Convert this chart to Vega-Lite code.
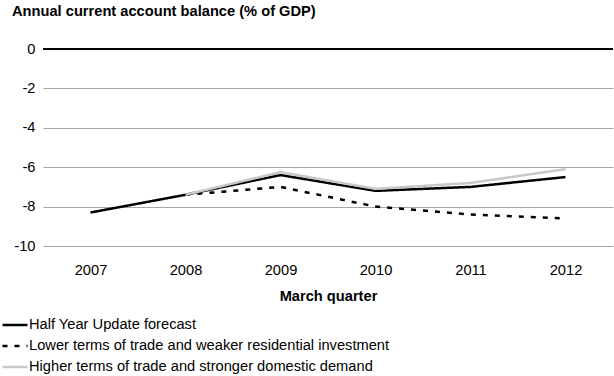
{
  "$schema": "https://vega.github.io/schema/vega-lite/v6.json",
  "width": 570,
  "height": 197,
  "autosize": "none",
  "padding": {"left": 43, "top": 49, "right": 1, "bottom": 130},
  "background": "white",
  "config": {
    "font": "Liberation Sans",
    "view": {"stroke": null}
  },
  "title": {
    "text": "Annual current account balance (% of GDP)",
    "anchor": "start",
    "frame": "group",
    "dx": -31,
    "fontSize": 14.67,
    "fontWeight": "bold",
    "font": "Liberation Sans",
    "color": "#000000",
    "offset": 22
  },
  "data": {
    "values": [
      {"year": "2007", "series": "Half Year Update forecast", "value": -8.3},
      {"year": "2008", "series": "Half Year Update forecast", "value": -7.4},
      {"year": "2009", "series": "Half Year Update forecast", "value": -6.4},
      {"year": "2010", "series": "Half Year Update forecast", "value": -7.2},
      {"year": "2011", "series": "Half Year Update forecast", "value": -7.0},
      {"year": "2012", "series": "Half Year Update forecast", "value": -6.5},
      {"year": "2008", "series": "Lower terms of trade and weaker residential investment", "value": -7.4},
      {"year": "2009", "series": "Lower terms of trade and weaker residential investment", "value": -7.0},
      {"year": "2010", "series": "Lower terms of trade and weaker residential investment", "value": -8.0},
      {"year": "2011", "series": "Lower terms of trade and weaker residential investment", "value": -8.4},
      {"year": "2012", "series": "Lower terms of trade and weaker residential investment", "value": -8.6},
      {"year": "2008", "series": "Higher terms of trade and stronger domestic demand", "value": -7.4},
      {"year": "2009", "series": "Higher terms of trade and stronger domestic demand", "value": -6.25},
      {"year": "2010", "series": "Higher terms of trade and stronger domestic demand", "value": -7.1},
      {"year": "2011", "series": "Higher terms of trade and stronger domestic demand", "value": -6.8},
      {"year": "2012", "series": "Higher terms of trade and stronger domestic demand", "value": -6.1}
    ]
  },
  "layer": [
    {
      "mark": {"type": "line", "strokeWidth": 2.5},
      "encoding": {
        "x": {
          "field": "year",
          "type": "ordinal",
          "scale": {"type": "point", "padding": 0.5},
          "axis": {
            "title": "March quarter",
            "titleFontSize": 14.67,
            "titleFontWeight": "bold",
            "titleColor": "#000000",
            "titlePadding": 12,
            "labelFontSize": 14.67,
            "labelColor": "#000000",
            "labelAngle": 0,
            "labelPadding": 16,
            "ticks": false,
            "domain": false,
            "grid": false
          }
        },
        "y": {
          "field": "value",
          "type": "quantitative",
          "scale": {"domain": [-10, 0], "nice": false, "zero": false},
          "axis": {
            "title": null,
            "values": [-10, -8, -6, -4, -2, 0],
            "tickCount": 6,
            "labelExpr": "datum.value == 0 ? '0' : '-' + abs(datum.value)",
            "labelOverlap": false,
            "labelBound": false,
            "labelFlush": false,
            "labelFontSize": 14.67,
            "labelColor": "#000000",
            "labelPadding": 8,
            "ticks": false,
            "domain": false,
            "grid": true,
            "gridColor": "#a6a6a6",
            "gridWidth": 1
          }
        },
        "color": {
          "field": "series",
          "type": "nominal",
          "sort": ["Half Year Update forecast", "Lower terms of trade and weaker residential investment", "Higher terms of trade and stronger domestic demand"],
          "scale": {
            "domain": ["Half Year Update forecast", "Lower terms of trade and weaker residential investment", "Higher terms of trade and stronger domestic demand"],
            "range": ["#000000", "#000000", "#c8c8c8"]
          },
          "legend": {
            "title": null,
            "orient": "none",
            "legendX": -42,
            "legendY": 262,
            "direction": "vertical",
            "symbolType": "stroke",
            "symbolSize": 625,
            "symbolStrokeWidth": 2.5,
            "labelFontSize": 14.67,
            "labelColor": "#000000",
            "labelOffset": 0,
            "rowPadding": -4,
            "labelLimit": 600
          }
        },
        "strokeDash": {
          "field": "series",
          "type": "nominal",
          "scale": {
            "domain": ["Half Year Update forecast", "Lower terms of trade and weaker residential investment", "Higher terms of trade and stronger domestic demand"],
            "range": [[1, 0], [5, 7], [1, 0]]
          },
          "legend": null
        },
        "order": {"field": "year"}
      }
    },
    {
      "mark": {"type": "rule", "color": "#000000", "strokeWidth": 2},
      "encoding": {"y": {"datum": 0}}
    }
  ]
}
